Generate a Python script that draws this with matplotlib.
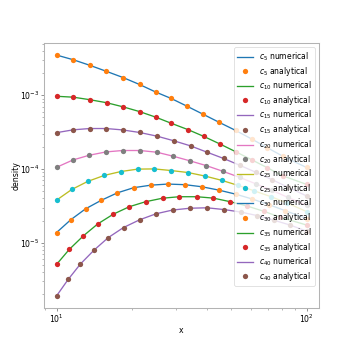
import matplotlib
matplotlib.use("Agg")
import matplotlib.pyplot as plt

# ---- data ----
orders = [5, 10, 15, 20, 25, 30, 35, 40]

x_c5 = [10.0, 11.67, 13.58, 15.78, 18.45, 21.48, 24.89, 28.77, 33.34, 38.65, 44.77, 52.1, 60.4, 69.8, 80.7, 100.0]
y_c5 = [3.51e-3, 3.03e-3, 2.55e-3, 2.12e-3, 1.74e-3, 1.40e-3, 1.109e-3, 9.04e-4, 7.08e-4, 5.51e-4, 4.29e-4, 3.33e-4, 2.55e-4, 1.94e-4, 1.48e-4, 1.05e-4]

x_c10 = [10.0, 11.67, 13.58, 15.85, 18.45, 21.48, 24.89, 28.77, 33.57, 38.9, 45.1, 52.2, 60.5, 69.7, 80.5, 100.0]
y_c10 = [9.69e-4, 9.42e-4, 8.71e-4, 7.93e-4, 6.97e-4, 6.01e-4, 5.06e-4, 4.17e-4, 3.42e-4, 2.76e-4, 2.18e-4, 1.71e-4, 1.33e-4, 1.04e-4, 8.07e-5, 6.19e-5]

x_c15 = [10.0, 11.67, 13.58, 15.78, 18.37, 21.48, 25.23, 29.38, 34.36, 40.0, 46.6, 54.2, 62.8, 72.8, 84.3, 100.0]
y_c15 = [3.11e-4, 3.40e-4, 3.54e-4, 3.54e-4, 3.39e-4, 3.13e-4, 2.79e-4, 2.42e-4, 2.06e-4, 1.69e-4, 1.39e-4, 1.12e-4, 9.01e-5, 7.18e-5, 5.66e-5, 4.32e-5]

x_c20 = [10.0, 11.64, 13.53, 15.78, 18.4, 21.58, 25.17, 29.32, 34.2, 39.8, 46.3, 54.0, 62.8, 72.8, 84.3, 100.0]
y_c20 = [1.054e-4, 1.327e-4, 1.538e-4, 1.706e-4, 1.782e-4, 1.782e-4, 1.69e-4, 1.49e-4, 1.29e-4, 1.11e-4, 9.31e-5, 7.71e-5, 6.28e-5, 5.13e-5, 4.12e-5, 3.21e-5]

x_c25 = [10.0, 11.52, 13.33, 15.53, 18.07, 21.13, 24.61, 28.71, 33.57, 39.26, 45.8, 53.2, 61.9, 72.1, 83.6, 100.0]
y_c25 = [3.78e-5, 5.29e-5, 6.79e-5, 8.19e-5, 9.24e-5, 9.97e-5, 1.003e-4, 9.54e-5, 8.96e-5, 8.03e-5, 7.02e-5, 6.0e-5, 5.05e-5, 4.21e-5, 3.47e-5, 2.65e-5]

x_c30 = [10.0, 11.40, 13.08, 15.07, 17.51, 20.36, 23.84, 27.87, 32.66, 38.10, 44.56, 52.1, 60.5, 70.5, 82.0, 100.0]
y_c30 = [1.374e-5, 2.05e-5, 2.89e-5, 3.75e-5, 4.75e-5, 5.58e-5, 6.04e-5, 6.25e-5, 6.13e-5, 5.75e-5, 5.18e-5, 4.56e-5, 3.93e-5, 3.30e-5, 2.73e-5, 2.13e-5]

x_c35 = [10.0, 11.25, 12.80, 14.62, 16.87, 19.55, 22.70, 26.55, 31.0, 36.4, 42.4, 49.6, 57.8, 67.3, 78.3, 100.0]
y_c35 = [5.08e-6, 8.13e-6, 1.239e-5, 1.80e-5, 2.44e-5, 3.08e-5, 3.60e-5, 4.02e-5, 4.21e-5, 4.21e-5, 4.03e-5, 3.60e-5, 3.15e-5, 2.68e-5, 2.23e-5, 1.74e-5]

x_c40 = [10.0, 11.14, 12.47, 14.15, 16.11, 18.54, 21.52, 25.0, 29.16, 34.2, 40.0, 46.8, 54.5, 63.4, 73.8, 85.9, 100.0]
y_c40 = [1.90e-6, 3.19e-6, 5.16e-6, 7.98e-6, 1.175e-5, 1.61e-5, 2.05e-5, 2.47e-5, 2.78e-5, 2.94e-5, 2.98e-5, 2.82e-5, 2.61e-5, 2.34e-5, 2.03e-5, 1.74e-5, 1.44e-5]

series = {
    5: (x_c5, y_c5), 10: (x_c10, y_c10), 15: (x_c15, y_c15), 20: (x_c20, y_c20),
    25: (x_c25, y_c25), 30: (x_c30, y_c30), 35: (x_c35, y_c35), 40: (x_c40, y_c40),
}

# ---- figure ----
fs = 5.6
lfs = 5.5
plt.rcParams['font.family'] = ['DejaVu Sans']
fig = plt.figure(figsize=(3.55, 3.53), dpi=100)
ax = fig.add_axes([44 / 355, 1 - 308 / 353, 275 / 355, 265 / 353])

for k in orders:
    xs, ys = series[k]
    ax.plot(xs, ys, '-', lw=0.95, label=r'$c_{%d}$ numerical' % k)
    ax.plot(xs, ys, 'o', ms=3.8, markeredgewidth=0, label=r'$c_{%d}$ analytical' % k)

ax.set_xscale('log')
ax.set_yscale('log')
ax.set_xlabel('x', fontsize=fs)
ax.set_ylabel('density', fontsize=fs)
ax.xaxis.set_label_coords(0.5, -0.068)
ax.yaxis.set_label_coords(-0.085, 0.5)
ax.tick_params(which='major', labelsize=fs, length=2.2, width=0.5, pad=1.2, color='0.4')
ax.tick_params(which='minor', length=1.2, width=0.4, color='0.5')
for s in ax.spines.values():
    s.set_color('0.7')
    s.set_linewidth(0.75)

leg = ax.legend(loc='upper right', fontsize=lfs, framealpha=0.8,
                borderaxespad=0.55, handlelength=2.0, labelspacing=0.25)
leg.get_frame().set_linewidth(0.5)

fig.savefig('out.png', dpi=100)
